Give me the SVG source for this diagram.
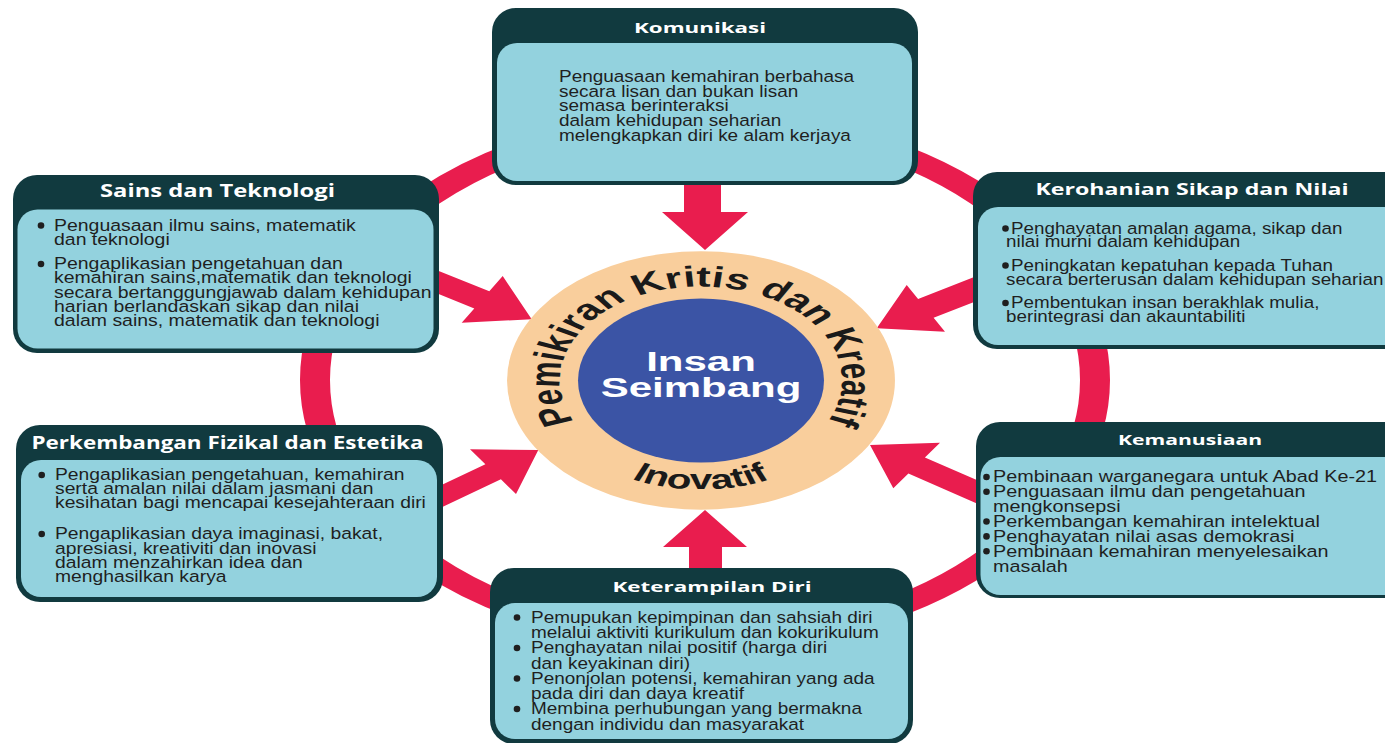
<svg xmlns="http://www.w3.org/2000/svg" width="1385" height="743" viewBox="0 0 1385 743">
<style>
.hdr{fill:#113A3F}
.bd{fill:#93D2DE}
.ttl{font-family:"Open Sans","Liberation Sans",Arial,sans-serif;font-weight:700;fill:#ffffff;text-anchor:middle}
.tx{font-family:"Liberation Sans",Arial,sans-serif;font-size:16.5px;fill:#1f1f1f}
.bul{fill:#1f1f1f}
.red{fill:#E91D4E}
.ring{fill:none;stroke:#E91D4E;stroke-width:20}
.arc{font-family:"Liberation Sans",Arial,sans-serif;font-weight:700;fill:#1a1a1a}
</style>
<defs>
<path id="arcTop" d="M 0,94 A 94,94 0 1,1 0,-94 A 94,94 0 1,1 0,94"/>
<path id="arcBot" d="M -109,0 A 109,109 0 0,0 109,0"/>
</defs>
<rect width="1385" height="743" fill="#ffffff"/>

<g id="connectors">
<g transform="translate(705,380) scale(1.5,1)"><circle class="ring" cx="0" cy="0" r="260"/></g>
<polygon class="red" points="684,180 721,180 721,212 748,212 705,250 662,212 684,212"/>
<polygon class="red" points="689,575 689,547 663,547 705,510 747,547 722,547 722,575"/>
<polygon class="red" points="430,267.6 489.3,291.3 502.7,276 531.7,319.3 461.7,322.7 474.3,308.4 430,290.6"/>
<polygon class="red" points="985,272.8 918.1,298.9 906.7,285 876.7,328.3 945,331.7 933.6,317.8 985,297.8"/>
<polygon class="red" points="432,489.6 485.4,464.3 470,449.3 538.3,450 516,494 500.9,479.3 432,511.9"/>
<polygon class="red" points="986,484.1 924.9,457.4 940,442.7 870,445 893.3,488.3 908.4,473.5 986,507.4"/>
</g>

<g id="center" transform="translate(701,380.5) scale(1.5,1)">
<circle cx="0" cy="0" r="129.3" fill="#F9CE9C"/>
<circle cx="0" cy="0" r="82" fill="#3B54A5"/>
<text class="arc" font-size="29"><textPath href="#arcTop" startOffset="50%" text-anchor="middle">Pemikiran Kritis dan Kreatif</textPath></text>
<text class="arc" font-size="27"><textPath href="#arcBot" startOffset="50%" text-anchor="middle">Inovatif</textPath></text>
<text x="0" y="-9.5" font-family="Liberation Sans, Arial, sans-serif" font-weight="700" font-size="28" fill="#ffffff" text-anchor="middle">Insan</text>
<text x="0" y="16" font-family="Liberation Sans, Arial, sans-serif" font-weight="700" font-size="28" fill="#ffffff" text-anchor="middle">Seimbang</text>
</g>

<g id="node-komunikasi">
<rect class="hdr" x="492" y="8" width="426" height="177" rx="24"/>
<rect class="bd" x="497" y="43" width="415" height="138" rx="20"/>
<text class="ttl" x="700" y="33" font-size="15" textLength="132" lengthAdjust="spacingAndGlyphs">Komunikasi</text>
<text class="tx" transform="translate(559,0) scale(1.15,1)">
<tspan x="0" y="82.5">Penguasaan kemahiran berbahasa</tspan>
<tspan x="0" y="97">secara lisan dan bukan lisan</tspan>
<tspan x="0" y="111.5">semasa berinteraksi</tspan>
<tspan x="0" y="126.5">dalam kehidupan seharian</tspan>
<tspan x="0" y="141.5">melengkapkan diri ke alam kerjaya</tspan>
</text>
</g>

<g id="node-sains">
<rect class="hdr" x="13" y="175" width="426" height="178" rx="24"/>
<rect class="bd" x="17.5" y="209.5" width="416" height="139" rx="20"/>
<text class="ttl" x="217.5" y="197" font-size="17" textLength="235" lengthAdjust="spacingAndGlyphs">Sains dan Teknologi</text>
<circle class="bul" cx="41" cy="225.5" r="3.3"/>
<circle class="bul" cx="41" cy="264" r="3.3"/>
<text class="tx" transform="translate(54,0) scale(1.18,1)">
<tspan x="0" y="231">Penguasaan ilmu sains, matematik</tspan>
<tspan x="0" y="245">dan teknologi</tspan>
<tspan x="0" y="269.5">Pengaplikasian pengetahuan dan</tspan>
<tspan x="0" y="283.5">kemahiran sains,matematik dan teknologi</tspan>
<tspan x="0" y="298">secara bertanggungjawab dalam kehidupan</tspan>
<tspan x="0" y="312">harian berlandaskan sikap dan nilai</tspan>
<tspan x="0" y="326">dalam sains, matematik dan teknologi</tspan>
</text>
</g>

<g id="node-kerohanian">
<rect class="hdr" x="973" y="172" width="440" height="177" rx="24"/>
<rect class="bd" x="978" y="207" width="430" height="138" rx="20"/>
<text class="ttl" x="1192" y="195" font-size="16.5" textLength="313" lengthAdjust="spacingAndGlyphs">Kerohanian Sikap dan Nilai</text>
<circle class="bul" cx="1005.5" cy="228.5" r="3.3"/>
<circle class="bul" cx="1005.5" cy="265.5" r="3.3"/>
<circle class="bul" cx="1005.5" cy="303" r="3.3"/>
<text class="tx" transform="translate(1011,0) scale(1.14,1)">
<tspan x="0" y="234">Penghayatan amalan agama, sikap dan</tspan>
<tspan x="-4.4" y="247.5">nilai murni dalam kehidupan</tspan>
<tspan x="0" y="271">Peningkatan kepatuhan kepada Tuhan</tspan>
<tspan x="-4.4" y="285">secara berterusan dalam kehidupan seharian</tspan>
<tspan x="0" y="308.5">Pembentukan insan berakhlak mulia,</tspan>
<tspan x="-4.4" y="322.5">berintegrasi dan akauntabiliti</tspan>
</text>
</g>

<g id="node-perkembangan">
<rect class="hdr" x="16" y="425" width="427" height="177" rx="24"/>
<rect class="bd" x="21" y="460" width="416" height="137" rx="20"/>
<text class="ttl" x="227.5" y="448.5" font-size="17" textLength="392" lengthAdjust="spacingAndGlyphs">Perkembangan Fizikal dan Estetika</text>
<circle class="bul" cx="41.7" cy="475" r="3.3"/>
<circle class="bul" cx="41.7" cy="534" r="3.3"/>
<text class="tx" transform="translate(55,0) scale(1.17,1)">
<tspan x="0" y="480.5">Pengaplikasian pengetahuan, kemahiran</tspan>
<tspan x="0" y="494.5">serta amalan nilai dalam jasmani dan</tspan>
<tspan x="0" y="508.5">kesihatan bagi mencapai kesejahteraan diri</tspan>
<tspan x="0" y="539.5">Pengaplikasian daya imaginasi, bakat,</tspan>
<tspan x="0" y="553.7">apresiasi, kreativiti dan inovasi</tspan>
<tspan x="0" y="567.9">dalam menzahirkan idea dan</tspan>
<tspan x="0" y="582.1">menghasilkan karya</tspan>
</text>
</g>

<g id="node-kemanusiaan">
<rect class="hdr" x="976" y="422" width="440" height="176" rx="24"/>
<rect class="bd" x="980.5" y="457" width="430" height="138" rx="20"/>
<text class="ttl" x="1190" y="445" font-size="15" textLength="144" lengthAdjust="spacingAndGlyphs">Kemanusiaan</text>
<circle class="bul" cx="986.5" cy="477" r="3.3"/>
<circle class="bul" cx="986.5" cy="491.8" r="3.3"/>
<circle class="bul" cx="986.5" cy="521.5" r="3.3"/>
<circle class="bul" cx="986.5" cy="536.4" r="3.3"/>
<circle class="bul" cx="986.5" cy="551.2" r="3.3"/>
<text class="tx" transform="translate(993,0) scale(1.2,1)">
<tspan x="0" y="482.5">Pembinaan warganegara untuk Abad Ke-21</tspan>
<tspan x="0" y="497.3">Penguasaan ilmu dan pengetahuan</tspan>
<tspan x="0" y="512.2">mengkonsepsi</tspan>
<tspan x="0" y="527">Perkembangan kemahiran intelektual</tspan>
<tspan x="0" y="541.9">Penghayatan nilai asas demokrasi</tspan>
<tspan x="0" y="556.7">Pembinaan kemahiran menyelesaikan</tspan>
<tspan x="0" y="571.6">masalah</tspan>
</text>
</g>

<g id="node-keterampilan">
<rect class="hdr" x="490" y="568" width="423" height="176" rx="24"/>
<rect class="bd" x="495" y="603" width="413" height="136" rx="20"/>
<text class="ttl" x="712" y="592" font-size="15" textLength="199" lengthAdjust="spacingAndGlyphs">Keterampilan Diri</text>
<circle class="bul" cx="517" cy="617.5" r="3.3"/>
<circle class="bul" cx="517" cy="648" r="3.3"/>
<circle class="bul" cx="517" cy="678.5" r="3.3"/>
<circle class="bul" cx="517" cy="709" r="3.3"/>
<text class="tx" transform="translate(531,0) scale(1.15,1)">
<tspan x="0" y="623">Pemupukan kepimpinan dan sahsiah diri</tspan>
<tspan x="0" y="638.25">melalui aktiviti kurikulum dan kokurikulum</tspan>
<tspan x="0" y="653.5">Penghayatan nilai positif (harga diri</tspan>
<tspan x="0" y="668.75">dan keyakinan diri)</tspan>
<tspan x="0" y="684">Penonjolan potensi, kemahiran yang ada</tspan>
<tspan x="0" y="699.25">pada diri dan daya kreatif</tspan>
<tspan x="0" y="714.5">Membina perhubungan yang bermakna</tspan>
<tspan x="0" y="729.75">dengan individu dan masyarakat</tspan>
</text>
</g>
</svg>
